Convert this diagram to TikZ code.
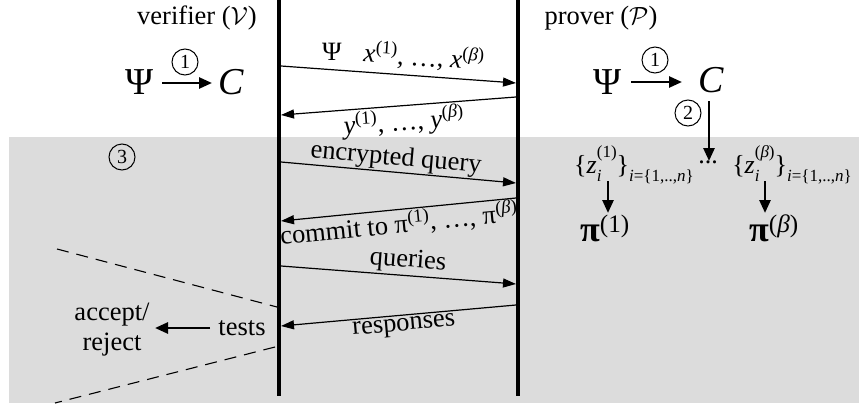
\documentclass[tikz,border=0pt]{standalone}
\usepackage{fontspec}
\setmainfont{Liberation Serif}
\usetikzlibrary{arrows.meta}
\definecolor{panel}{HTML}{DCDCDC}
% small script size used for indices
\newcommand{\idx}[1]{{\fontsize{17}{17}\selectfont #1}}
% {z_i^(k)}_{i={1,..,n}}
\newcommand{\zset}[1]{\{\textit{z}\rlap{\raisebox{-0.32em}{\idx{\textit{i}}}}\raisebox{0.6em}{\idx{(#1)}}\}\raisebox{-0.32em}{\idx{\textit{i}=\{1,..,\textit{n}\}}}}
\tikzset{
  lbl/.style={font=\fontsize{26.5}{30}\selectfont, inner sep=0pt},
  zlbl/.style={font=\fontsize{26}{28}\selectfont, inner sep=0pt},
  big/.style={font=\fontsize{38}{40}\selectfont, inner sep=0pt},
  pilbl/.style={font=\fontsize{36}{38}\selectfont, inner sep=0pt},
  msg/.style={line width=1.2pt, -{Triangle[length=13pt,width=9pt]}},
  life/.style={line width=3.6pt},
  boldarrow/.style={line width=2.6pt, -{Triangle[length=13pt,width=11pt]}},
  stepno/.style={circle, draw, line width=1pt, minimum size=26pt, inner sep=0pt,
                 font=\fontsize{20}{20}\selectfont},
  cutline/.style={dash pattern=on 12pt off 8pt, line width=1.1pt},
}
\begin{document}
\begin{tikzpicture}[x=1pt, y=-1pt]
  \useasboundingbox (0,0) rectangle (859,407);
  % shaded phase-3 panel
  \fill[panel] (9,137) rectangle (859,403);

  % lifelines
  \coordinate (Vtop) at (279,0);
  \coordinate (Vbot) at (279,396);
  \coordinate (Ptop) at (518,0);
  \coordinate (Pbot) at (518,396);
  \draw[life] (Vtop) -- (Vbot);
  \draw[life] (Ptop) -- (Pbot);

  % party names
  \node[lbl] (vname) at (197,18) {verifier ($\mathcal{V}$)};
  \node[lbl] (pname) at (601,18) {prover ($\mathcal{P}$)};

  % verifier compiles Psi into C
  \node[big] (vpsi) at (140,82) {Ψ};
  \node[big] (vC) at (231,82) {\textit{C}};
  \coordinate (va) at (162,83);
  \coordinate (vb) at (212,83);
  \draw[boldarrow] (va) -- (vb);
  \node[stepno] (v1) at (185,62) {1};

  % prover compiles Psi into C
  \node[big] (ppsi) at (608,82) {Ψ};
  \node[big] (pC) at (711,80) {\textit{C}};
  \coordinate (pa) at (631,82);
  \coordinate (pb) at (682,82);
  \draw[boldarrow] (pa) -- (pb);
  \node[stepno] (p1) at (655,60) {1};

  % step 2: C to the per-instance wire values
  \coordinate (c2s) at (709,101);
  \coordinate (c2e) at (709,161);
  \draw[boldarrow] (c2s) -- (c2e);
  \node[stepno] (p2) at (688,113) {2};

  \node[zlbl] (z1) at (634,165) {\zset{1}};
  \node[zlbl] (zb) at (792,165) {\zset{\textit{β}}};
  \node[zlbl, anchor=base] (zdots) at (708,163) {...};
  \node[pilbl] (pi1) at (605,228) {\textbf{π}\textsuperscript{(1)}};
  \node[pilbl] (pib) at (774,228) {\textbf{π}\textsuperscript{(\textit{β})}};
  \coordinate (z1a) at (608,181); \coordinate (z1b) at (608,213);
  \coordinate (zba) at (765,181); \coordinate (zbb) at (765,213);
  \draw[boldarrow] (z1a) -- (z1b);
  \draw[boldarrow] (zba) -- (zbb);

  % step 3 marker
  \node[stepno] (s3) at (122,157) {3};

  % message coordinates
  \coordinate (m1s) at (281,66);  \coordinate (m1e) at (516,83);
  \coordinate (m2s) at (516,97);  \coordinate (m2e) at (281,115);
  \coordinate (m3s) at (281,162); \coordinate (m3e) at (516,183);
  \coordinate (m4s) at (516,198); \coordinate (m4e) at (281,221);
  \coordinate (m5s) at (281,266); \coordinate (m5e) at (516,284);
  \coordinate (m6s) at (516,305); \coordinate (m6e) at (281,326);

  \draw[msg] (m1s) -- (m1e);
  \draw[msg] (m2s) -- (m2e);
  \draw[msg] (m3s) -- (m3e);
  \draw[msg] (m4s) -- (m4e);
  \draw[msg] (m5s) -- (m5e);
  \draw[msg] (m6s) -- (m6e);

  \node[lbl] (l1a) at (332,52) {Ψ};
  \node[lbl, rotate=-4.1] (l1b) at (424,57)
    {\textit{x}\textsuperscript{(1)}, …, \textit{x}\textsuperscript{(\textit{β})}};
  \node[lbl, rotate=4.4] (l2) at (404,122)
    {\textit{y}\textsuperscript{(1)}, …, \textit{y}\textsuperscript{(\textit{β})}};
  \node[lbl, rotate=-5.1] (l3) at (396,159) {encrypted query};
  \node[lbl, rotate=5.6] (l4) at (399,224)
    {commit to π\textsuperscript{(1)}, …, π\textsuperscript{(\textit{β})}};
  \node[lbl, rotate=-4.4] (l5) at (408,261) {queries};
  \node[lbl, rotate=5.1] (l6) at (404,327) {responses};

  % verifier's decision
  \node[lbl] (tests) at (242,328) {tests};
  \node[lbl, align=center] (dec) at (112,330) {accept/\\reject};
  \coordinate (ta) at (210,328);
  \coordinate (tb) at (155,328);
  \draw[boldarrow] (ta) -- (tb);

  % dashed wedge around the tests
  \coordinate (d1a) at (57,249);  \coordinate (d1b) at (277,307);
  \coordinate (d2a) at (275,347); \coordinate (d2b) at (55,403);
  \draw[cutline] (d1a) -- (d1b);
  \draw[cutline] (d2a) -- (d2b);
\end{tikzpicture}
\end{document}
